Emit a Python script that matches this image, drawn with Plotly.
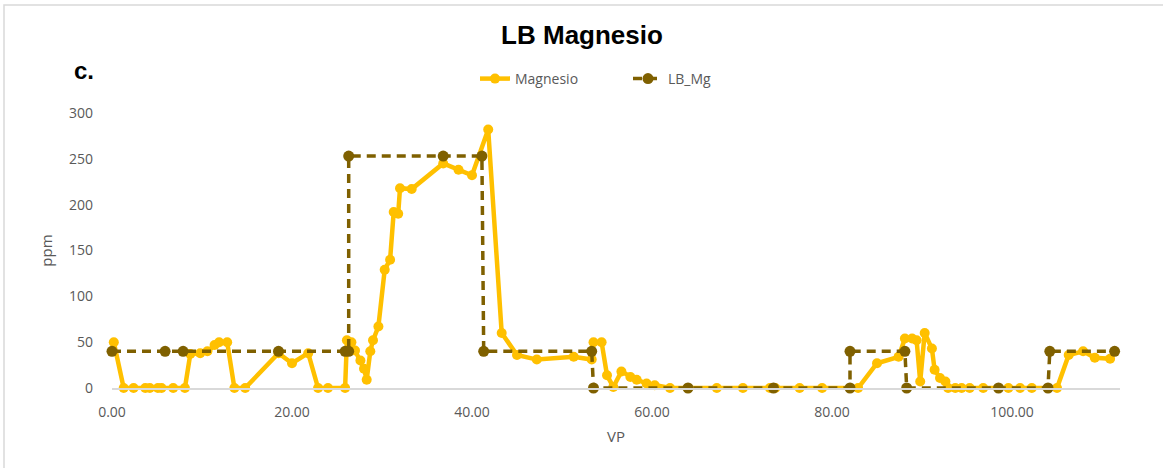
import plotly.graph_objects as go

# Magnesio measurements along the profile (VP vs ppm)
vp_mg = [0.2, 1.3, 2.4, 3.7, 4.2, 5.1, 5.5, 6.8, 8.1, 8.7, 9.8, 10.6, 11.4, 11.9, 12.8,
         13.6, 14.8, 18.5, 20.0, 21.8, 22.9, 24.0, 25.9, 26.1, 26.6, 27.0, 27.6, 28.0,
         28.3, 28.7, 29.0, 29.6, 30.3, 30.9, 31.3, 31.8, 32.0, 33.3, 36.8, 38.5, 40.0,
         41.8, 43.3, 45.0, 47.2, 51.3, 53.3, 53.5, 54.4, 55.0, 55.7, 56.6, 57.6, 58.3,
         59.4, 60.3, 62.0, 64.0, 67.2, 70.1, 73.1, 73.7, 76.4, 78.9, 82.9, 85.0, 87.4,
         88.1, 88.9, 89.4, 89.8, 90.3, 91.1, 91.4, 92.0, 92.6, 92.9, 93.7, 94.4, 95.3,
         96.8, 99.6, 100.9, 102.2, 105.0, 106.3, 107.9, 109.2, 110.9]
ppm_mg = [50, 0, 0, 0, 0, 0, 0, 0, 0, 37, 38, 40, 47, 50, 50,
          0, 0, 38, 27, 38, 0, 0, 0, 52, 50, 41, 30, 21,
          9, 40, 52, 67, 129, 140, 192, 190, 218, 217, 245, 238, 232,
          282, 60, 36, 31, 34, 31, 50, 50, 14, 1, 18, 12, 9,
          5, 3, 0, 0, 0, 0, 0, 0, 0, 0, 0, 27, 34,
          54, 54, 52, 7, 60, 43, 20, 11, 7, 0, 0, 0, 0,
          0, 0, 0, 0, 0, 36, 40, 33, 32]

# Baseline LB_Mg step profile
vp_lb = [0.0, 5.9, 7.9, 18.5, 25.9, 26.3, 26.3, 36.8, 41.1, 41.3, 53.3, 53.5, 64.0,
         73.5, 82.0, 82.0, 88.1, 88.3, 98.5, 104.0, 104.2, 111.4]
ppm_lb = [40, 40, 40, 40, 40, 40, 253, 253, 253, 40, 40, 0, 0,
          0, 0, 40, 40, 0, 0, 0, 40, 40]

x_ticks = [0, 20, 40, 60, 80, 100]
y_ticks = [0, 50, 100, 150, 200, 250, 300]

GRAY = "#595959"
FONT = "Open Sans"

fig = go.Figure()
fig.add_trace(go.Scatter(
    x=vp_mg, y=ppm_mg, name="Magnesio", mode="lines+markers",
    line=dict(color="#FFC000", width=4.5),
    marker=dict(color="#FFC000", size=10),
    cliponaxis=False,
))
fig.add_trace(go.Scatter(
    x=vp_lb, y=ppm_lb, name="LB_Mg", mode="lines+markers",
    line=dict(color="#7F6000", width=3.5, dash="9px,6px"),
    marker=dict(color="#7F6000", size=11),
    cliponaxis=False,
))

L, R, T, B = 112, 43, 113, 80
W, H = 1163, 468
pw, ph = W - L - R, H - T - B

fig.update_layout(
    width=W, height=H,
    margin=dict(l=L, r=R, t=T, b=B),
    paper_bgcolor="white", plot_bgcolor="white",
    font=dict(family=FONT, color=GRAY, size=14),
    title=dict(text="<b>LB Magnesio</b>", x=582 / W, xanchor="center",
               y=1 - 35 / H, yanchor="middle",
               font=dict(family="Liberation Sans, Arial", size=26, color="black")),
    legend=dict(orientation="h", x=(475 - L) / pw, xanchor="left",
                y=1 + (T - 79) / ph, yanchor="middle",
                entrywidth=108, entrywidthmode="pixels",
                font=dict(family=FONT, size=14, color=GRAY),
                bgcolor="rgba(0,0,0,0)"),
    xaxis=dict(range=[0, 112], tickvals=x_ticks, tickformat=".2f",
               showgrid=False, zeroline=False, showline=True,
               linecolor="#D9D9D9", linewidth=1.5, ticks="",
               ticklabelstandoff=10,
               title=dict(text="VP", standoff=12, font=dict(size=15, color=GRAY))),
    yaxis=dict(range=[0, 300], tickvals=y_ticks, showgrid=False,
               zeroline=False, showline=False, ticks="",
               ticklabelstandoff=18,
               title=dict(text="ppm", standoff=12, font=dict(size=15, color=GRAY))),
    showlegend=True,
)

# Panel label
fig.add_annotation(text="<b>c.</b>", xref="paper", yref="paper",
                   x=(72 - L) / pw, y=1 + (T - 70) / ph, xanchor="left", yanchor="middle",
                   showarrow=False,
                   font=dict(family="Liberation Sans, Arial", size=24, color="black"))

# Chart frame
fig.add_shape(type="rect", xref="paper", yref="paper",
              x0=(4 - L) / pw, x1=(W + 10 - L) / pw,
              y0=-(H + 10 - (T + ph)) / ph, y1=1 + (T - 5) / ph,
              line=dict(color="#D9D9D9", width=1.5), fillcolor="rgba(0,0,0,0)", layer="below")

fig.write_html("out.html")
